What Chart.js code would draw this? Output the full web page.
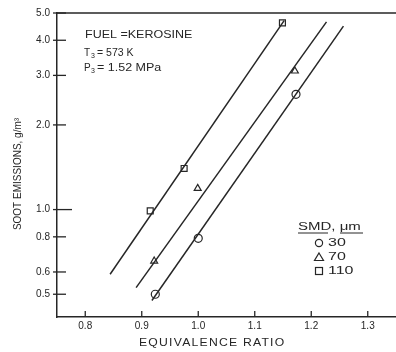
<!DOCTYPE html>
<html>
<head>
<meta charset="utf-8">
<script src="https://cdn.jsdelivr.net/npm/chart.js@4"></script>
<style>
  html, body { margin: 0; padding: 0; background: #fff; }
  canvas { display: block; }
</style>
</head>
<body>
<canvas id="sootChart" width="396" height="352"></canvas>
<script>
/* ===================== DATA ===================== */
const xTicks = [0.8, 0.9, 1.0, 1.1, 1.2, 1.3];
const yTicks = [0.5, 0.6, 0.8, 1.0, 2.0, 3.0, 4.0, 5.0];

// SMD 30 um (circles)
const ratio30 = [0.924, 1.0, 1.173];
const soot30 = [0.50, 0.79, 2.57];
const fitX30 = [0.918, 1.257];
const fitY30 = [0.475, 4.49];

// SMD 70 um (triangles)
const ratio70 = [0.922, 0.999, 1.171];
const soot70 = [0.656, 1.19, 3.11];
const fitX70 = [0.890, 1.227];
const fitY70 = [0.528, 4.65];

// SMD 110 um (squares)
const ratio110 = [0.915, 0.975, 1.149];
const soot110 = [0.99, 1.40, 4.61];
const fitX110 = [0.844, 1.152];
const fitY110 = [0.589, 4.70];

const legendLabels = ['30', '70', '110'];

/* ===================== HELPERS ===================== */
const ink = '#262626';
const fontName = '"Liberation Sans", Arial, sans-serif';

function pts(xs, ys) {
  return xs.map((x, i) => ({ x: x, y: ys[i] }));
}

function fitLine(xs, ys) {
  return {
    data: pts(xs, ys), showLine: true, borderColor: ink, borderWidth: 1.5,
    pointRadius: 0, fill: false
  };
}

function markers(xs, ys, style) {
  return {
    data: pts(xs, ys), showLine: false, pointStyle: style,
    pointRadius: style === 'rect' ? 4.2 : 4, pointBorderColor: ink,
    pointBackgroundColor: '#fff', pointBorderWidth: 1.2
  };
}

function line(ctx, x1, y1, x2, y2) {
  ctx.beginPath();
  ctx.moveTo(x1, y1);
  ctx.lineTo(x2, y2);
  ctx.stroke();
}

// the scanned lettering is wide, so stretch it sideways
function wideText(ctx, text, x, y, sx) {
  ctx.save();
  ctx.translate(x, y);
  ctx.scale(sx, 1);
  ctx.fillText(text, 0, 0);
  ctx.restore();
}

/* ===================== EXTRAS (frame, ticks, notes, legend) ===================== */
const extras = {
  id: 'extras',
  afterDraw(chart) {
    const ctx = chart.ctx;
    const xs = chart.scales.x, ys = chart.scales.y, area = chart.chartArea;
    ctx.save();
    ctx.strokeStyle = ink;
    ctx.fillStyle = ink;
    ctx.lineWidth = 1.3;

    // top frame line
    line(ctx, area.left, area.top, area.right, area.top);

    // tick marks
    xTicks.forEach(v => {
      const px = xs.getPixelForValue(v);
      line(ctx, px, area.bottom - 6, px, area.bottom);
    });
    yTicks.forEach(v => {
      const py = ys.getPixelForValue(v);
      const len = v === 1 ? 15 : 9;
      line(ctx, area.left - 4, py, area.left + len, py);
    });

    // notes
    ctx.font = '10px ' + fontName;
    ctx.textBaseline = 'middle';
    ctx.textAlign = 'left';
    wideText(ctx, 'FUEL =KEROSINE', 85, 35, 1.25);
    ctx.fillText('T', 84, 53);
    ctx.fillText('P', 84, 68);
    ctx.font = '7px ' + fontName;
    ctx.fillText('3', 91, 56);
    ctx.fillText('3', 91, 71);
    ctx.font = '10px ' + fontName;
    wideText(ctx, '= 573 K', 97, 53, 1.05);
    wideText(ctx, '= 1.52 MPa', 97, 68, 1.25);

    // axis titles
    ctx.save();
    ctx.letterSpacing = '1px';
    wideText(ctx, 'EQUIVALENCE RATIO', 139, 343, 1.22);
    ctx.restore();

    ctx.save();
    ctx.translate(18, 174);
    ctx.rotate(-Math.PI / 2);
    ctx.textAlign = 'center';
    ctx.fillText('SOOT EMISSIONS, g/m\u00B3', 0, 0);
    ctx.restore();

    // legend
    ctx.textAlign = 'left';
    wideText(ctx, 'SMD, \u03BCm', 298, 227, 1.5);
    ctx.lineWidth = 1;
    line(ctx, 298, 233, 328, 233);
    line(ctx, 340, 233, 363, 233);
    ctx.lineWidth = 1.2;
    const ly = [243, 257, 271];
    ctx.beginPath();
    ctx.arc(319, ly[0], 3.6, 0, Math.PI * 2);
    ctx.stroke();
    ctx.beginPath();
    ctx.moveTo(319, ly[1] - 4);
    ctx.lineTo(323.5, ly[1] + 3.5);
    ctx.lineTo(314.5, ly[1] + 3.5);
    ctx.closePath();
    ctx.stroke();
    ctx.strokeRect(315.5, ly[2] - 3.5, 7, 7);
    legendLabels.forEach((t, i) => wideText(ctx, t, 328, ly[i], 1.6));

    ctx.restore();
  }
};

/* ===================== CHART ===================== */
new Chart(document.getElementById('sootChart').getContext('2d'), {
  type: 'scatter',
  data: {
    datasets: [
      fitLine(fitX30, fitY30),
      fitLine(fitX70, fitY70),
      fitLine(fitX110, fitY110),
      markers(ratio30, soot30, 'circle'),
      markers(ratio70, soot70, 'triangle'),
      markers(ratio110, soot110, 'rect')
    ]
  },
  options: {
    responsive: false,
    animation: false,
    layout: { autoPadding: false, padding: { left: 0, top: 13, right: 0, bottom: 0 } },
    plugins: {
      legend: { display: false },
      tooltip: { enabled: false }
    },
    scales: {
      x: {
        type: 'linear', min: 0.75, max: 1.35,
        afterFit: s => { s.height = 35; s.paddingLeft = 0; s.paddingRight = 0; },
        afterBuildTicks: s => { s.ticks = xTicks.map(v => ({ value: v })); },
        ticks: {
          callback: v => v.toFixed(1), color: ink, padding: 3,
          font: { family: fontName, size: 10 }, maxRotation: 0, autoSkip: false
        },
        grid: { display: false, drawTicks: false },
        border: { color: ink, width: 1.5 }
      },
      y: {
        type: 'logarithmic', min: 0.415, max: 5.0,
        afterFit: s => { s.width = 57; s.paddingTop = 0; s.paddingBottom = 0; },
        afterBuildTicks: s => { s.ticks = yTicks.map(v => ({ value: v })); },
        ticks: {
          callback: v => Number(v).toFixed(1), color: ink, padding: 7,
          font: { family: fontName, size: 10 }, autoSkip: false
        },
        grid: { display: false, drawTicks: false },
        border: { color: ink, width: 1.5 }
      }
    }
  },
  plugins: [extras]
});
</script>
</body>
</html>
